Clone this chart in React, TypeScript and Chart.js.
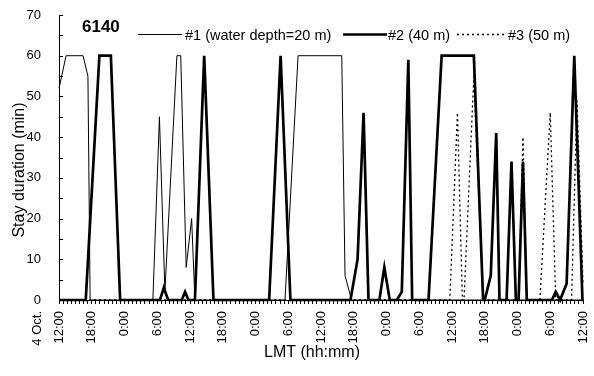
import React, { useEffect, useRef } from 'react';
import { Chart, registerables } from 'chart.js';

Chart.register(...registerables);

const FONT = '"Liberation Sans", Arial, Helvetica, sans-serif';

// Tick labels every 6 hours, starting 4 Oct. 12:00
const xTickLabels = ['12:00', '18:00', '0:00', '6:00', '12:00', '18:00', '0:00', '6:00', '12:00', '18:00', '0:00', '6:00', '12:00', '18:00', '0:00', '6:00', '12:00'];
const firstDateLabel = '4 Oct.';
const stationLabel = '6140';
const seriesNames = ['#1 (water depth=20 m)', '#2 (40 m)', '#3 (50 m)'];
const xTitle = 'LMT (hh:mm)';
const yTitle = 'Stay duration (min)';

// hours elapsed since 4 Oct 12:00 and stay duration (min)
const s1Hours = [0, 1.3, 4.4, 5.3, 5.7, 17.2, 18.4, 19.4, 21.6, 22.3, 23.3, 24.3, 24.9, 41.4, 43.8, 51.8, 52.4, 53.6, 96];
const s1Values = [52, 60, 60, 55, 0, 0, 45, 2, 60, 60, 8, 20, 0, 0, 60, 60, 6, 0, 0];

const s2Hours = [0, 4.9, 7.4, 9.5, 11.2, 18.5, 19.2, 20.0, 22.5, 23.1, 23.7, 24.9, 26.6, 28.3, 38.5, 40.6, 42.4, 53.4, 54.7, 55.8, 56.7, 58.7, 59.6, 60.6, 61.9, 62.8, 64.0, 64.7, 67.7, 70.1, 76.0, 77.7, 78.0, 79.1, 80.1, 80.7, 82.0, 82.9, 83.7, 84.2, 85.0, 85.7, 90.3, 91.0, 91.8, 93.0, 94.4, 95.9, 96];
const s2Values = [0, 0, 60, 60, 0, 0, 3, 0, 0, 2, 0, 0, 60, 0, 0, 60, 0, 0, 10, 46, 0, 0, 8, 0, 0, 2, 59, 0, 0, 60, 60, 0, 0, 6, 41, 0, 0, 34, 0, 0, 34, 0, 0, 2, 0, 4, 60, 0, 0];

const s3Hours = [0, 71.6, 73.0, 73.9, 74.2, 76.0, 77.7, 84.2, 85.0, 85.7, 88.1, 90.0, 91.0, 93.9, 94.9, 96];
const s3Values = [0, 0, 46, 0, 0, 55, 0, 0, 40, 0, 0, 46, 0, 0, 49, 4];

const toPoints = (hs: number[], vs: number[]) => hs.map((h, i) => ({ x: h, y: vs[i] }));

const overlayPlugin = {
  id: 'overlay',
  afterDraw(chart: any) {
    const ctx = chart.ctx as CanvasRenderingContext2D;
    const { left, bottom } = chart.chartArea;
    const ys = chart.scales.y;
    const xs = chart.scales.x;
    ctx.save();
    ctx.fillStyle = '#000';
    ctx.strokeStyle = '#000';

    // inward y ticks
    ctx.lineWidth = 1;
    for (let v = 0; v <= 70; v += 5) {
      const py = Math.round(ys.getPixelForValue(v)) + 0.5;
      ctx.beginPath();
      ctx.moveTo(left, py);
      ctx.lineTo(left + 4, py);
      ctx.stroke();
    }

    // station label
    ctx.font = `bold 17px ${FONT}`;
    ctx.textAlign = 'left';
    ctx.textBaseline = 'alphabetic';
    ctx.fillText(stationLabel, 82, 31.5);

    // legend
    ctx.font = `14.5px ${FONT}`;
    const ly = 34.5;
    ctx.lineWidth = 1;
    ctx.beginPath(); ctx.moveTo(138, ly); ctx.lineTo(182, ly); ctx.stroke();
    ctx.fillText(seriesNames[0], 185, 39.5);
    ctx.lineWidth = 2.6;
    ctx.beginPath(); ctx.moveTo(343, ly); ctx.lineTo(387, ly); ctx.stroke();
    ctx.fillText(seriesNames[1], 388, 39.5);
    ctx.lineWidth = 1.3;
    ctx.setLineDash([2, 3]);
    ctx.beginPath(); ctx.moveTo(457, ly); ctx.lineTo(506, ly); ctx.stroke();
    ctx.setLineDash([]);
    ctx.fillText(seriesNames[2], 508, 39.5);

    // axis titles
    ctx.font = `16px ${FONT}`;
    ctx.textAlign = 'center';
    ctx.textBaseline = 'middle';
    ctx.fillText(xTitle, 312, 353);
    ctx.save();
    ctx.translate(20, 170);
    ctx.rotate(-Math.PI / 2);
    ctx.fillText(yTitle, 0, 0);
    ctx.restore();

    // date label beside first tick
    ctx.save();
    ctx.font = `13px ${FONT}`;
    const x0 = xs.getPixelForValue(0);
    ctx.translate(x0 - 22, bottom + 11);
    ctx.rotate(-Math.PI / 2);
    ctx.textAlign = 'right';
    ctx.textBaseline = 'middle';
    ctx.fillText(firstDateLabel, 0, 0);
    ctx.restore();

    ctx.restore();
  },
};

export default function App() {
  const ref = useRef<HTMLCanvasElement>(null);
  useEffect(() => {
    document.body.style.margin = '0';
    const canvas = ref.current!;
    const chart = new Chart(canvas, {
      type: 'line',
      data: {
        datasets: [
          { label: seriesNames[0], data: toPoints(s1Hours, s1Values), borderColor: '#000', borderWidth: 1, pointRadius: 0, tension: 0, clip: false, fill: false },
          { label: seriesNames[1], data: toPoints(s2Hours, s2Values), borderColor: '#000', borderWidth: 2.7, pointRadius: 0, tension: 0, clip: false, fill: false },
          { label: seriesNames[2], data: toPoints(s3Hours, s3Values), borderColor: '#000', borderWidth: 1.3, borderDash: [2, 3], pointRadius: 0, tension: 0, clip: false, fill: false },
        ],
      },
      options: {
        animation: false,
        responsive: false,
        layout: { padding: { left: 8, right: 11, top: 15, bottom: 0 } },
        plugins: { legend: { display: false }, tooltip: { enabled: false } },
        scales: {
          x: {
            type: 'linear',
            min: 0,
            max: 96,
            afterFit: (s: any) => { s.height = 76; s.paddingLeft = 0; s.paddingRight = 0; },
            grid: { display: true, drawOnChartArea: false, drawTicks: true, tickLength: 4, color: '#000', lineWidth: 1 },
            border: { display: true, color: '#000', width: 1 },
            ticks: {
              stepSize: 0.75,
              autoSkip: false,
              maxTicksLimit: 300,
              minRotation: 90,
              maxRotation: 90,
              padding: 7,
              color: '#000',
              font: { family: FONT, size: 13 },
              callback: (v: any) => {
                const k = Number(v) / 6;
                if (Math.abs(k - Math.round(k)) < 1e-6) return xTickLabels[Math.round(k)];
                return '';
              },
            },
          },
          y: {
            min: 0,
            max: 70,
            afterFit: (s: any) => { s.width = 51; s.paddingTop = 0; s.paddingBottom = 0; },
            grid: { display: false },
            border: { display: true, color: '#000', width: 1 },
            ticks: { stepSize: 10, padding: 10, color: '#000', font: { family: FONT, size: 13 } },
          },
        },
      },
      plugins: [overlayPlugin],
    });
    return () => chart.destroy();
  }, []);
  return (
    <div style={{ width: 594, height: 376 }}>
      <canvas ref={ref} width={594} height={376} style={{ display: 'block' }} />
    </div>
  );
}
